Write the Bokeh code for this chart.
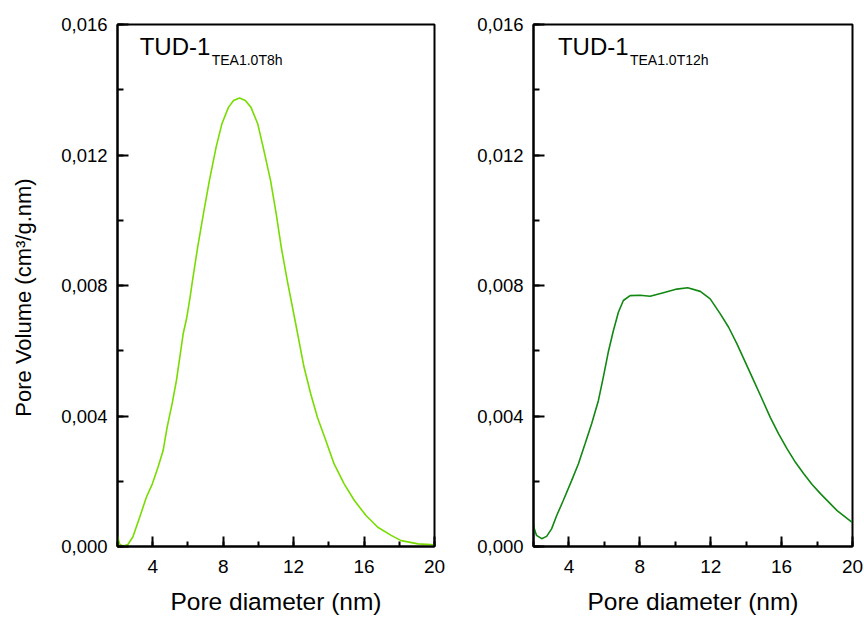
import math
from bokeh.plotting import figure
from bokeh.layouts import row
from bokeh.models import Range1d, SingleIntervalTicker, CustomJSTickFormatter, Label
from bokeh.embed import file_html
from bokeh.resources import INLINE

# ---- data ----
d_8h = [2.0, 2.11, 2.3, 2.59, 2.87, 3.26, 3.64, 3.98, 4.3, 4.59, 4.82, 5.1, 5.35,
        5.73, 5.92, 6.11, 6.25, 6.55, 6.88, 7.22, 7.6, 7.93, 8.3, 8.59, 8.93,
        9.26, 9.58, 9.96, 10.27, 10.69, 11.01, 11.3, 11.64, 12.11, 12.59, 12.97,
        13.35, 13.83, 14.3, 14.87, 15.45, 16.11, 16.78, 17.54, 18.11, 19.07, 20.0]
v_8h = [0.00034, 0.00008, 0.00001, 0.00006, 0.00029, 0.0009, 0.00151, 0.00192,
        0.00243, 0.00294, 0.00366, 0.00437, 0.0051, 0.00652, 0.00698, 0.0076,
        0.00812, 0.00917, 0.0102, 0.01122, 0.01224, 0.01296, 0.01346, 0.01367,
        0.01375, 0.01367, 0.01346, 0.01296, 0.01224, 0.01122, 0.0102, 0.00917,
        0.00815, 0.00685, 0.0055, 0.00468, 0.00396, 0.00325, 0.00253, 0.00192,
        0.00141, 0.00095, 0.00059, 0.00034, 0.00018, 0.00008, 0.00005]

d_12h = [2.0, 2.02, 2.17, 2.46, 2.74, 3.02, 3.31, 3.68, 4.15, 4.53, 4.91, 5.28,
         5.66, 5.94, 6.22, 6.51, 6.79, 7.07, 7.45, 8.01, 8.58, 9.33, 10.09, 10.7,
         11.41, 11.97, 12.54, 13.01, 13.48, 13.95, 14.42, 14.89, 15.36, 15.83,
         16.31, 16.78, 17.25, 17.72, 18.19, 18.66, 19.13, 19.98]
v_12h = [0.00067, 0.00059, 0.00034, 0.00024, 0.00031, 0.00054, 0.00095, 0.00141,
         0.00202, 0.00253, 0.00315, 0.00376, 0.00447, 0.00519, 0.00596, 0.00662,
         0.00718, 0.00754, 0.00769, 0.0077, 0.00767, 0.00778, 0.00789, 0.00793,
         0.00782, 0.00759, 0.00713, 0.00672, 0.00621, 0.00565, 0.00509, 0.00453,
         0.00396, 0.00345, 0.00299, 0.00258, 0.00223, 0.0019, 0.00162, 0.00136,
         0.0011, 0.00074]

titles_main = ["TUD-1", "TUD-1"]
titles_sub = ["TEA1.0T8h", "TEA1.0T12h"]
x_label = "Pore diameter (nm)"
y_label = "Pore Volume (cm\u00b3/g.nm)"

FONT = "Liberation Sans"
H = 617

# narrow strip holding the shared y-axis title
strip = figure(frame_width=40, frame_height=H, x_range=Range1d(0, 40),
               y_range=Range1d(0, H), output_backend="svg", toolbar_location=None,
               x_axis_location=None, y_axis_location=None,
               min_border_left=0, min_border_right=0, min_border_top=0,
               min_border_bottom=0)
strip.xgrid.visible = False
strip.ygrid.visible = False
strip.outline_line_color = None
strip.add_layout(Label(x=23, y=H - 273, text=y_label, text_font=FONT,
                       text_font_size="22px", text_align="center",
                       text_baseline="middle", angle=math.pi / 2,
                       text_color="black"))


def make_plot(xs, ys, color, main, sub, title_x, left_border, right_border,
              frame_w):
    p = figure(frame_width=frame_w, frame_height=522,
               x_range=Range1d(2, 20), y_range=Range1d(0, 0.016),
               output_backend="svg", toolbar_location=None,
               min_border_left=left_border, min_border_right=right_border,
               min_border_top=24, min_border_bottom=71)
    p.xgrid.visible = False
    p.ygrid.visible = False
    p.outline_line_color = "black"
    p.outline_line_width = 2
    p.outline_line_alpha = 1

    p.xaxis.ticker = SingleIntervalTicker(interval=4, num_minor_ticks=2)
    p.yaxis.ticker = SingleIntervalTicker(interval=0.004, num_minor_ticks=2)
    p.yaxis.formatter = CustomJSTickFormatter(
        code="return tick.toFixed(3).replace('.', ',');")

    for ax in (p.xaxis[0], p.yaxis[0]):
        ax.axis_line_width = 2
        ax.major_tick_line_width = 2
        ax.minor_tick_line_width = 2
        ax.major_tick_out = 0
        ax.minor_tick_out = 0
        ax.major_label_text_font = FONT
        ax.major_label_text_color = "black"
        ax.axis_label_text_font = FONT
        ax.axis_label_text_font_style = "normal"
        ax.axis_label_text_color = "black"

    p.xaxis.major_tick_in = 10
    p.xaxis.minor_tick_in = 5
    p.yaxis.major_tick_in = 11
    p.yaxis.minor_tick_in = 6
    p.xaxis.major_label_text_font_size = "19px"
    p.yaxis.major_label_text_font_size = "18.5px"
    p.xaxis.major_label_standoff = 13
    p.yaxis.major_label_standoff = 10
    p.xaxis.axis_label = x_label
    p.xaxis.axis_label_text_font_size = "24.5px"
    p.xaxis.axis_label_standoff = 12

    p.line(xs, ys, line_color=color, line_width=1.6)

    p.add_layout(Label(x=title_x, y=0.01532, text=main, text_font=FONT,
                       text_font_size="24px", text_baseline="middle",
                       text_color="black"))
    p.add_layout(Label(x=title_x, y=0.01532, x_offset=72, y_offset=-13, text=sub,
                       text_font=FONT, text_font_size="14px",
                       text_baseline="middle", text_color="black"))
    return p


p1 = make_plot(d_8h, v_8h, "#78dc00", titles_main[0], titles_sub[0], 3.26,
               77, 20, 317)
p2 = make_plot(d_12h, v_12h, "#118811", titles_main[1], titles_sub[1], 3.38,
               79, 12, 319)

layout = row(strip, p1, p2, spacing=0)
open("out.html", "w").write(file_html(layout, INLINE))
